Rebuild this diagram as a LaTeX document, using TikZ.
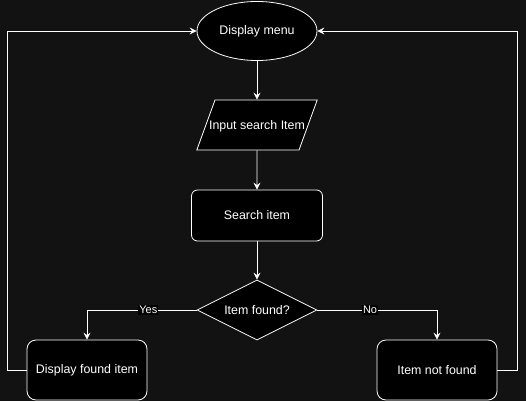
\documentclass[tikz,border=0pt]{standalone}
\usepackage{fontspec}
\setmainfont{Liberation Sans}
\usetikzlibrary{shapes.geometric,arrows.meta}
\definecolor{bgdark}{RGB}{18,18,18}
\begin{document}
\begin{tikzpicture}[x=1pt, y=-1pt,
    every node/.style={text=white, font=\fontsize{12.4}{14}\selectfont},
    shapebox/.style={draw=white, fill=black, line width=0.8pt, inner sep=0pt},
    endbox/.style={shapebox, minimum width=120pt, minimum height=60pt, rounded corners=9pt},
    flow/.style={draw=white, line width=0.8pt, -{Stealth[length=7pt, width=7pt, inset=2.5pt]}},
    answer/.style={fill=black, inner sep=1pt, font=\fontsize{11}{13}\selectfont}]
    \fill[bgdark] (0,0) rectangle (526,401);
    \useasboundingbox (0,0) rectangle (526,401);

    \node[shapebox, ellipse, minimum width=120pt, minimum height=59pt] (menu) at (257,31) {Display menu};
    \node[shapebox, trapezium, trapezium left angle=70, trapezium right angle=110,
        text height=29.5pt, text depth=20.5pt] (input) at (257,125) {\makebox[84pt]{Input search Item}};
    \node[shapebox, minimum width=131pt, minimum height=51pt, rounded corners=6pt] (search) at (257,215.5) {Search item};
    \node[shapebox, diamond, aspect=2, minimum width=120pt, minimum height=60pt] (found) at (257,310) {Item found?};
    \node[endbox] (shown) at (87,370) {Display found item};
    \node[endbox] (missing) at (437,370) {Item not found};

    \draw[flow] (menu) -- (input);
    \draw[flow] (input) -- (search);
    \draw[flow] (search) -- (found);
    \draw[flow] (found.west) -| node[answer, pos=0.22] {Yes} (shown.north);
    \draw[flow] (found.east) -| node[answer, pos=0.22] {No} (missing.north);
    \draw[flow] (shown.west) -- ++(-19,0) |- (menu.west);
    \draw[flow] (missing.east) -- ++(20,0) |- (menu.east);
\end{tikzpicture}
\end{document}
